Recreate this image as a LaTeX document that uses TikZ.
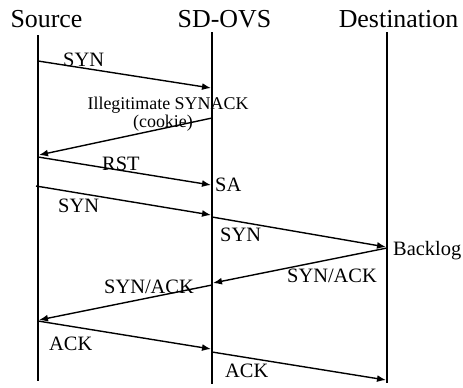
\documentclass[tikz,border=0pt]{standalone}
\usepackage{fontspec}
\setmainfont{Liberation Serif}
\usetikzlibrary{arrows.meta}
\begin{document}
\begin{tikzpicture}[x=1bp,y=-1bp,
  lifeline/.style={line width=1.9bp,black},
  msg/.style={line width=1.4bp,black,-{Latex[length=9bp,width=7bp]}},
  title/.style={inner sep=0pt,anchor=base,font=\fontsize{26}{28}\selectfont},
  lbl/.style={inner sep=0pt,anchor=base west,font=\fontsize{20.5}{22}\selectfont},
  small/.style={inner sep=0pt,anchor=base,font=\fontsize{18}{20}\selectfont}]
\useasboundingbox (0,0) rectangle (463,387);

% participants
\node[title] (tsrc) at (46.5,27) {Source};
\node[title] (tovs) at (224.5,27) {SD-OVS};
\node[title] (tdst) at (398.5,27) {Destination};

% lifelines
\coordinate (srcT) at (38,35);  \coordinate (srcB) at (38,381);
\coordinate (ovsT) at (212,32); \coordinate (ovsB) at (212,384);
\coordinate (dstT) at (387,32); \coordinate (dstB) at (387,383);
\draw[lifeline] (srcT) -- (srcB);
\draw[lifeline] (ovsT) -- (ovsB);
\draw[lifeline] (dstT) -- (dstB);

% message end points on the lifelines
\coordinate (a1) at (38,61);   \coordinate (b1) at (211,88);
\coordinate (a2) at (212,118); \coordinate (b2) at (39,155);
\coordinate (a3) at (38,157);  \coordinate (b3) at (211,185);
\coordinate (a4) at (36,186);  \coordinate (b4) at (211,215);
\coordinate (a5) at (212,217); \coordinate (b5) at (386,247);
\coordinate (a6) at (387,248); \coordinate (b6) at (213,283);
\coordinate (a7) at (212,285); \coordinate (b7) at (39,320);
\coordinate (a8) at (38,321);  \coordinate (b8) at (211,349);
\coordinate (a9) at (212,352); \coordinate (b9) at (386,380);

% messages
\draw[msg] (a1) -- (b1);
\draw[msg] (a2) -- (b2);
\draw[msg] (a3) -- (b3);
\draw[msg] (a4) -- (b4);
\draw[msg] (a5) -- (b5);
\draw[msg] (a6) -- (b6);
\draw[msg] (a7) -- (b7);
\draw[msg] (a8) -- (b8);
\draw[msg] (a9) -- (b9);

% labels
\node[lbl] (l1) at (63,66) {SYN};
\node[small] (l2a) at (168,109) {Illegitimate SYNACK};
\node[small] (l2b) at (163,127) {(cookie)};
\node[lbl] (l3) at (102,170) {RST};
\node[lbl] (l3b) at (215,191) {SA};
\node[lbl] (l4) at (58,212) {SYN};
\node[lbl] (l5) at (220,241) {SYN};
\node[lbl] (l5b) at (393,255) {Backlog};
\node[lbl] (l6) at (287,282) {SYN/ACK};
\node[lbl] (l7) at (104,293) {SYN/ACK};
\node[lbl] (l8) at (49,350) {ACK};
\node[lbl] (l9) at (225,377) {ACK};
\end{tikzpicture}
\end{document}
